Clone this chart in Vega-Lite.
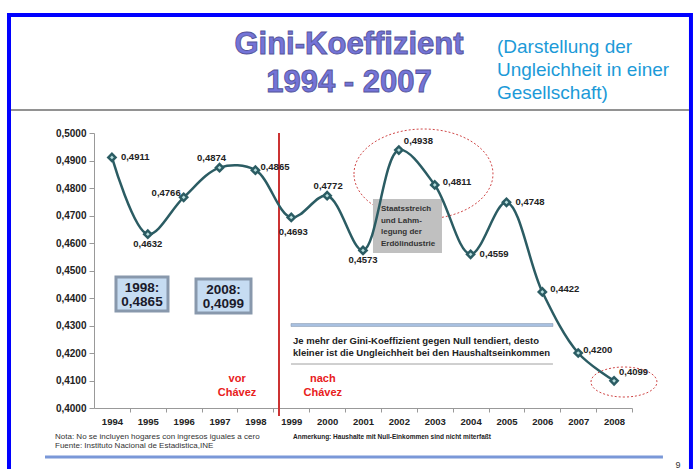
{
  "$schema": "https://vega.github.io/schema/vega-lite/v6.json",
  "width": 538,
  "height": 275,
  "autosize": {"type": "none"},
  "padding": {"left": 94, "top": 133, "right": 62, "bottom": 61},
  "background": "white",
  "config": {
    "view": {"stroke": null},
    "font": "Liberation Sans",
    "locale": {"number": {"decimal": ",", "thousands": ".", "grouping": [3], "currency": ["", " €"]}},
    "axis": {"grid": false, "domainColor": "#999999", "tickColor": "#999999", "labelFont": "Liberation Sans", "labelFontWeight": "bold", "labelColor": "#222222", "labelFlush": false, "labelOverlap": false},
    "axisX": {"tickCount": 15, "tickSize": 4, "labelFontSize": 9.5, "labelPadding": 4, "tickOffset": 17.93, "labelOffset": -17.93},
    "axisY": {"tickCount": 10, "tickSize": 5, "labelFontSize": 10, "labelPadding": 3}
  },
  "layer": [
    {
      "data": {"values": [{"x": 1991.13, "x2": 2010.144, "y": 0.54291, "y2": 0.37382}]},
      "mark": {"type": "rect", "fill": "transparent", "stroke": "#0000ff", "strokeWidth": 4},
      "encoding": {
        "x": {"field": "x", "type": "quantitative", "title": null, "scale": {"domain": [1993.5, 2008.5], "nice": false, "zero": false},
          "axis": {"format": "d", "title": null, "tickCount": 15, "labelOverlap": false}},
        "x2": {"field": "x2"},
        "y": {"field": "y", "type": "quantitative", "title": null, "scale": {"domain": [0.4, 0.5], "nice": false, "zero": false},
          "axis": {"format": ".4f", "title": null, "tickCount": 10, "labelOverlap": false}},
        "y2": {"field": "y2"}
      }
    },
    {
      "data": {"values": [{"x": 1991.186, "x2": 2010.088, "y": 0.50836}]},
      "mark": {"type": "rule", "stroke": "#6e6e6e", "strokeWidth": 1.5},
      "encoding": {
        "x": {"field": "x", "type": "quantitative", "title": null},
        "x2": {"field": "x2"},
        "y": {"field": "y", "type": "quantitative", "title": null}
      }
    },
    {
      "data": {"values": [{"t": "Gini-Koeffizient", "x": 2000.609, "y": 0.532}, {"t": "1994 - 2007", "x": 2000.609, "y": 0.51818}]},
      "mark": {"type": "text", "font": "Liberation Sans", "fontWeight": "bold", "fontSize": 31, "align": "center", "baseline": "middle", "fill": "#7474d8", "stroke": "#55559a", "strokeWidth": 0.9},
      "encoding": {
        "x": {"field": "x", "type": "quantitative", "title": null},
        "y": {"field": "y", "type": "quantitative", "title": null},
        "text": {"field": "t"}
      }
    },
    {
      "data": {"values": [{"t": "(Darstellung der\nUngleichheit in einer\nGesellschaft)", "x": 2004.735, "y": 0.53127}]},
      "mark": {"type": "text", "font": "Liberation Sans", "fontSize": 19, "align": "left", "baseline": "middle", "lineBreak": "\n", "lineHeight": 23, "fill": "#1c9ad8"},
      "encoding": {
        "x": {"field": "x", "type": "quantitative", "title": null},
        "y": {"field": "y", "type": "quantitative", "title": null},
        "text": {"field": "t"}
      }
    },
    {
      "data": {"values": [{"x": 1998.658, "y": 0.5, "y2": 0.3971}]},
      "mark": {"type": "rule", "stroke": "#cc3333", "strokeWidth": 2},
      "encoding": {
        "x": {"field": "x", "type": "quantitative", "title": null},
        "y": {"field": "y", "type": "quantitative", "title": null},
        "y2": {"field": "y2"}
      }
    },
    {
      "data": {"values": [{"x": 2002.686, "y": 0.4851}]},
      "mark": {"type": "point", "shape": "M-1,0A1,0.647 0 1,1 1,0A1,0.647 0 1,1 -1,0Z", "size": 19321, "filled": false, "stroke": "#d04848", "strokeWidth": 1, "strokeDash": [2, 2], "opacity": 1},
      "encoding": {
        "x": {"field": "x", "type": "quantitative", "title": null},
        "y": {"field": "y", "type": "quantitative", "title": null}
      }
    },
    {
      "data": {"values": [{"x": 2008.276, "y": 0.40945}]},
      "mark": {"type": "point", "shape": "M-1,0A1,0.4545 0 1,1 1,0A1,0.4545 0 1,1 -1,0Z", "size": 4356, "filled": false, "stroke": "#d04848", "strokeWidth": 1, "strokeDash": [2, 2], "opacity": 1},
      "encoding": {
        "x": {"field": "x", "type": "quantitative", "title": null},
        "y": {"field": "y", "type": "quantitative", "title": null}
      }
    },
    {
      "data": {"values": [
        {"x": 1994.113, "x2": 1995.563, "y": 0.44764, "y2": 0.43527},
        {"x": 1996.344, "x2": 1997.877, "y": 0.44691, "y2": 0.43455}
      ]},
      "mark": {"type": "rect", "fill": "#c6dcf2", "stroke": "#8898ac", "strokeWidth": 3},
      "encoding": {
        "x": {"field": "x", "type": "quantitative", "title": null},
        "x2": {"field": "x2"},
        "y": {"field": "y", "type": "quantitative", "title": null},
        "y2": {"field": "y2"}
      }
    },
    {
      "data": {"values": [
        {"t": "1998:\n0,4865", "x": 1994.838, "y": 0.44364},
        {"t": "2008:\n0,4099", "x": 1997.11, "y": 0.44291}
      ]},
      "mark": {"type": "text", "font": "Liberation Sans", "fontWeight": "bold", "fontSize": 13.5, "align": "center", "baseline": "middle", "lineBreak": "\n", "lineHeight": 14, "fill": "#1a1a2a"},
      "encoding": {
        "x": {"field": "x", "type": "quantitative", "title": null},
        "y": {"field": "y", "type": "quantitative", "title": null},
        "text": {"field": "t"}
      }
    },
    {
      "data": {"values": [{"x": 2001.278, "x2": 2003.202, "y": 0.476, "y2": 0.45636}]},
      "mark": {"type": "rect", "fill": "#c0c0c0"},
      "encoding": {
        "x": {"field": "x", "type": "quantitative", "title": null},
        "x2": {"field": "x2"},
        "y": {"field": "y", "type": "quantitative", "title": null},
        "y2": {"field": "y2"}
      }
    },
    {
      "data": {"values": [{"t": "Staatsstreich\nund  Lahm-\nlegung der\nErdölindustrie", "x": 2001.501, "y": 0.47236}]},
      "mark": {"type": "text", "font": "Liberation Sans", "fontWeight": "bold", "fontSize": 8, "align": "left", "baseline": "middle", "lineBreak": "\n", "lineHeight": 11.7, "fill": "#333333"},
      "encoding": {
        "x": {"field": "x", "type": "quantitative", "title": null},
        "y": {"field": "y", "type": "quantitative", "title": null},
        "text": {"field": "t"}
      }
    },
    {
      "data": {"values": [{"x": 1998.992, "x2": 2006.296, "y": 0.43073, "y2": 0.42964}]},
      "mark": {"type": "rect", "fill": "#a8c0e0", "stroke": "#8090a8", "strokeWidth": 0.5},
      "encoding": {
        "x": {"field": "x", "type": "quantitative", "title": null},
        "x2": {"field": "x2"},
        "y": {"field": "y", "type": "quantitative", "title": null},
        "y2": {"field": "y2"}
      }
    },
    {
      "data": {"values": [{"x": 1998.992, "x2": 2006.296, "y": 0.416}]},
      "mark": {"type": "rule", "stroke": "#a0a0a0", "strokeWidth": 1},
      "encoding": {
        "x": {"field": "x", "type": "quantitative", "title": null},
        "x2": {"field": "x2"},
        "y": {"field": "y", "type": "quantitative", "title": null}
      }
    },
    {
      "data": {"values": [{"t": "Je mehr der Gini-Koeffizient  gegen Null  tendiert,  desto\nkleiner ist die Ungleichheit bei den Haushaltseinkommen", "x": 1999.048, "y": 0.42436}]},
      "mark": {"type": "text", "font": "Liberation Sans", "fontWeight": "bold", "fontSize": 9.5, "align": "left", "baseline": "middle", "lineBreak": "\n", "lineHeight": 11.5, "fill": "#222222"},
      "encoding": {
        "x": {"field": "x", "type": "quantitative", "title": null},
        "y": {"field": "y", "type": "quantitative", "title": null},
        "text": {"field": "t"}
      }
    },
    {
      "data": {"values": [{"t": "vor\nChávez", "x": 1997.49, "y": 0.41055}, {"t": "nach\nChávez", "x": 1999.88, "y": 0.41055}]},
      "mark": {"type": "text", "font": "Liberation Sans", "fontWeight": "bold", "fontSize": 11, "align": "center", "baseline": "middle", "lineBreak": "\n", "lineHeight": 14, "fill": "#e8201c"},
      "encoding": {
        "x": {"field": "x", "type": "quantitative", "title": null},
        "y": {"field": "y", "type": "quantitative", "title": null},
        "text": {"field": "t"}
      }
    },
    {
      "data": {"values": [{"t": "Nota: No se incluyen hogares con ingresos iguales a cero\nFuente: Instituto Nacional de Estadistica,INE", "x": 1992.413, "y": 0.38945}]},
      "mark": {"type": "text", "font": "Liberation Sans", "fontSize": 8, "align": "left", "baseline": "middle", "lineBreak": "\n", "lineHeight": 9, "fill": "#333333"},
      "encoding": {
        "x": {"field": "x", "type": "quantitative", "title": null},
        "y": {"field": "y", "type": "quantitative", "title": null},
        "text": {"field": "t"}
      }
    },
    {
      "data": {"values": [{"t": "Anmerkung: Haushalte mit Null-Einkommen sind  nicht miterfaßt", "x": 1999.048, "y": 0.38945}]},
      "mark": {"type": "text", "font": "Liberation Sans", "fontWeight": "bold", "fontSize": 6.5, "align": "left", "baseline": "middle", "fill": "#222222"},
      "encoding": {
        "x": {"field": "x", "type": "quantitative", "title": null},
        "y": {"field": "y", "type": "quantitative", "title": null},
        "text": {"field": "t"}
      }
    },
    {
      "data": {"values": [{"x": 1992.134, "x2": 2009.363, "y": 0.38218}]},
      "mark": {"type": "rule", "stroke": "#7a98d8", "strokeWidth": 3},
      "encoding": {
        "x": {"field": "x", "type": "quantitative", "title": null},
        "x2": {"field": "x2"},
        "y": {"field": "y", "type": "quantitative", "title": null}
      }
    },
    {
      "data": {"values": [{"t": "9", "x": 2009.78, "y": 0.37927}]},
      "mark": {"type": "text", "font": "Liberation Sans", "fontSize": 9, "align": "center", "baseline": "middle", "fill": "#333333"},
      "encoding": {
        "x": {"field": "x", "type": "quantitative", "title": null},
        "y": {"field": "y", "type": "quantitative", "title": null},
        "text": {"field": "t"}
      }
    },
    {
      "data": {"name": "gini", "values": [
        {"year": 1994, "gini": 0.4911},
        {"year": 1995, "gini": 0.4632},
        {"year": 1996, "gini": 0.4766},
        {"year": 1997, "gini": 0.4874},
        {"year": 1998, "gini": 0.4865},
        {"year": 1999, "gini": 0.4693},
        {"year": 2000, "gini": 0.4772},
        {"year": 2001, "gini": 0.4573},
        {"year": 2002, "gini": 0.4938},
        {"year": 2003, "gini": 0.4811},
        {"year": 2004, "gini": 0.4559},
        {"year": 2005, "gini": 0.4748},
        {"year": 2006, "gini": 0.4422},
        {"year": 2007, "gini": 0.42},
        {"year": 2008, "gini": 0.4099}
      ]},
      "encoding": {
        "x": {"field": "year", "type": "quantitative", "title": null},
        "y": {"field": "gini", "type": "quantitative", "title": null},
        "text": {"field": "gini", "type": "quantitative", "format": ".4f"}
      },
      "layer": [
        {"mark": {"type": "line", "interpolate": "catmull-rom", "stroke": "#2b5c63", "strokeWidth": 2.5}},
        {"mark": {"type": "point", "shape": "diamond", "filled": true, "size": 115, "color": "#2b5c63", "opacity": 1}},
        {"mark": {"type": "point", "shape": "diamond", "filled": true, "size": 14, "color": "#b8dede", "opacity": 1}},
        {"transform": [{"filter": {"field": "year", "oneOf": [1994, 2004, 2005]}}], "mark": {"type": "text", "align": "left", "baseline": "middle", "dx": 9, "dy": 0, "font": "Liberation Sans", "fontWeight": "bold", "fontSize": 9.5, "fill": "#222222"}},
        {"transform": [{"filter": {"field": "year", "oneOf": [2003, 2006]}}], "mark": {"type": "text", "align": "left", "baseline": "middle", "dx": 8, "dy": -3, "font": "Liberation Sans", "fontWeight": "bold", "fontSize": 9.5, "fill": "#222222"}},
        {"transform": [{"filter": {"field": "year", "oneOf": [1998, 2007]}}], "mark": {"type": "text", "align": "left", "baseline": "middle", "dx": 5, "dy": -3, "font": "Liberation Sans", "fontWeight": "bold", "fontSize": 9.5, "fill": "#222222"}},
        {"transform": [{"filter": {"field": "year", "oneOf": [2002, 2008]}}], "mark": {"type": "text", "align": "left", "baseline": "middle", "dx": 5, "dy": -9, "font": "Liberation Sans", "fontWeight": "bold", "fontSize": 9.5, "fill": "#222222"}},
        {"transform": [{"filter": {"field": "year", "oneOf": [1995, 2001]}}], "mark": {"type": "text", "align": "center", "baseline": "middle", "dx": 0, "dy": 10, "font": "Liberation Sans", "fontWeight": "bold", "fontSize": 9.5, "fill": "#222222"}},
        {"transform": [{"filter": {"field": "year", "oneOf": [1999]}}], "mark": {"type": "text", "align": "center", "baseline": "middle", "dx": 2, "dy": 15, "font": "Liberation Sans", "fontWeight": "bold", "fontSize": 9.5, "fill": "#222222"}},
        {"transform": [{"filter": {"field": "year", "oneOf": [1997]}}], "mark": {"type": "text", "align": "center", "baseline": "middle", "dx": -8, "dy": -10, "font": "Liberation Sans", "fontWeight": "bold", "fontSize": 9.5, "fill": "#222222"}},
        {"transform": [{"filter": {"field": "year", "oneOf": [2000]}}], "mark": {"type": "text", "align": "center", "baseline": "middle", "dx": 1, "dy": -10, "font": "Liberation Sans", "fontWeight": "bold", "fontSize": 9.5, "fill": "#222222"}},
        {"transform": [{"filter": {"field": "year", "oneOf": [1996]}}], "mark": {"type": "text", "align": "right", "baseline": "middle", "dx": -3, "dy": -4, "font": "Liberation Sans", "fontWeight": "bold", "fontSize": 9.5, "fill": "#222222"}}
      ]
    }
  ]
}
